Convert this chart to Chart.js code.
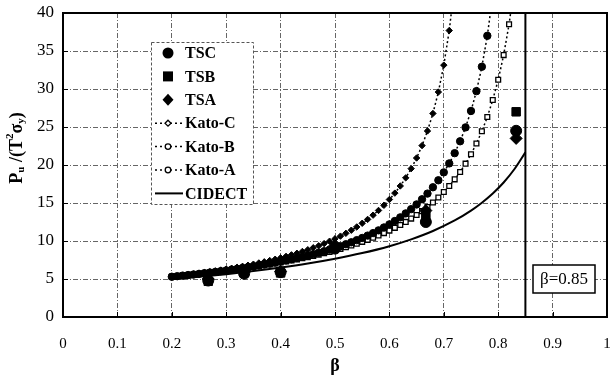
<!DOCTYPE html>
<html><head><meta charset="utf-8">
<script src="https://cdn.jsdelivr.net/npm/chart.js@4.4.0/dist/chart.umd.min.js"></script>
<style>html,body{margin:0;padding:0;background:#fff;}canvas{display:block;}</style>
</head><body>
<canvas id="c" width="614" height="381"></canvas>
<script>
// ---- tick labels ----
const xTickValues = [0,0.1,0.2,0.3,0.4,0.5,0.6,0.7,0.8,0.9,1];
const xTickLabels = ['0','0.1','0.2','0.3','0.4','0.5','0.6','0.7','0.8','0.9','1'];
const yTickValues = [0,5,10,15,20,25,30,35,40];

// ---- test results ----
const testBeta = [0.267,0.333,0.40,0.50,0.667,0.833];
const TSC = [4.8,5.7,5.9,9.0,12.5,24.5];
const TSB = [4.7,5.8,5.8,9.2,13.3,27.0];
const TSA = [5.0,5.9,6.0,9.4,14.0,23.5];

// ---- Kato curves ----
const katoBeta = [0.20,0.21,0.22,0.23,0.24,0.25,0.26,0.27,0.28,0.29,0.30,0.31,0.32,0.33,0.34,0.35,0.36,0.37,0.38,0.39,
  0.40,0.41,0.42,0.43,0.44,0.45,0.46,0.47,0.48,0.49,0.50,0.51,0.52,0.53,0.54,0.55,0.56,0.57,0.58,0.59,
  0.60,0.61,0.62,0.63,0.64,0.65,0.66,0.67,0.68,0.69,0.70,0.71,0.72,0.73,0.74,0.75,0.76,0.77,0.78,0.79,
  0.80,0.81,0.82,0.83];
const katoC = [5.30,5.38,5.47,5.56,5.65,5.75,5.85,5.95,6.06,6.18,6.29,6.41,6.54,6.67,6.81,6.95,7.11,7.26,7.43,7.60,
  7.78,7.98,8.18,8.39,8.62,8.85,9.11,9.37,9.66,9.97,10.29,10.64,11.01,11.42,11.85,12.33,12.84,13.40,14.02,14.70,
  15.46,16.30,17.24,18.31,19.52,20.92,22.55,24.48,26.78,29.60,33.14,37.69,43.8];
const katoB = [5.30,5.37,5.45,5.52,5.60,5.68,5.77,5.85,5.94,6.03,6.13,6.23,6.33,6.44,6.55,6.66,6.78,6.90,7.03,7.16,
  7.30,7.45,7.60,7.76,7.92,8.09,8.27,8.46,8.66,8.87,9.09,9.32,9.57,9.83,10.11,10.40,10.71,11.04,11.40,11.78,
  12.19,12.63,13.11,13.63,14.19,14.81,15.49,16.24,17.07,17.99,19.03,20.21,21.56,23.12,24.95,27.11,29.72,32.93,37.00,42.32];
const katoA = [5.30,5.37,5.44,5.51,5.59,5.66,5.74,5.82,5.91,6.00,6.09,6.18,6.27,6.37,6.48,6.58,6.69,6.80,6.92,7.04,
  7.17,7.30,7.44,7.58,7.73,7.88,8.04,8.21,8.39,8.57,8.77,8.97,9.18,9.41,9.64,9.89,10.15,10.43,10.73,11.04,
  11.37,11.73,12.11,12.51,12.95,13.42,13.93,14.47,15.07,15.73,16.44,17.23,18.11,19.08,20.18,21.41,22.82,24.44,26.32,28.55,
  31.21,34.46,38.52,43.76];

// ---- CIDECT design curve ----
const cidectBeta = [0.20,0.25,0.30,0.35,0.40,0.45,0.50,0.55,0.60,0.64,0.68,0.72,0.75,0.77,0.79,0.81,0.83,0.85];
const cidect = [4.97,5.29,5.64,6.04,6.50,7.03,7.66,8.41,9.32,10.22,11.32,12.70,14.00,15.04,16.25,17.70,19.47,21.66];

// ---- limit line ----
const limitBeta = [0.85,0.85];
const limitVal = [0,40];
const limitLabel = 'β=0.85';

const FONT = "'Liberation Serif', 'Times New Roman', serif";
const pts = (xs, ys) => ys.map((y,i)=>({x:xs[i], y}));

const legendItems = [
  {label:'TSC', kind:'circle'},
  {label:'TSB', kind:'square'},
  {label:'TSA', kind:'diamond'},
  {label:'Kato-C', kind:'dotDiamond'},
  {label:'Kato-B', kind:'dotCircle'},
  {label:'Kato-A', kind:'dotCircle2'},
  {label:'CIDECT', kind:'solid'}
];

const decor = {
  id:'decor',
  beforeDatasetsDraw(chart){
    const {ctx, chartArea:a, scales:{x,y}} = chart;
    ctx.save();
    ctx.strokeStyle='#000'; ctx.lineWidth=1;
    xTickValues.forEach(v=>{const px=Math.round(x.getPixelForValue(v))+0.5; ctx.beginPath(); ctx.moveTo(px,a.bottom); ctx.lineTo(px,a.bottom-5); ctx.stroke();});
    yTickValues.forEach(v=>{const py=Math.round(y.getPixelForValue(v))+0.5; ctx.beginPath(); ctx.moveTo(a.left,py); ctx.lineTo(a.left+5,py); ctx.stroke();});
    ctx.restore();
  },
  afterDatasetsDraw(chart){
    const {ctx, chartArea:a} = chart;
    ctx.save();
    // frame
    ctx.strokeStyle='#000'; ctx.lineWidth=2;
    ctx.strokeRect(a.left, a.top, a.right-a.left, a.bottom-a.top);
    // legend box
    const L=151, T=42, R=253, B=204;
    ctx.fillStyle='#fff'; ctx.fillRect(L,T,R-L,B-T);
    ctx.setLineDash([3,2]); ctx.strokeStyle='#555'; ctx.lineWidth=1;
    ctx.strokeRect(L+0.5,T+0.5,R-L,B-T);
    ctx.setLineDash([]);
    ctx.font = "bold 16px "+FONT; ctx.textBaseline='middle'; ctx.textAlign='left'; ctx.fillStyle='#000';
    legendItems.forEach((it,i)=>{
      const cy = 53 + i*23.4, cx = 168;
      ctx.fillStyle='#000'; ctx.strokeStyle='#000';
      if(it.kind==='circle'){ctx.beginPath(); ctx.arc(cx,cy,5.5,0,Math.PI*2); ctx.fill();}
      else if(it.kind==='square'){ctx.fillRect(cx-5,cy-5,10,10);}
      else if(it.kind==='diamond'){ctx.beginPath(); ctx.moveTo(cx,cy-6); ctx.lineTo(cx+5.5,cy); ctx.lineTo(cx,cy+6); ctx.lineTo(cx-5.5,cy); ctx.closePath(); ctx.fill();}
      else if(it.kind==='solid'){ctx.lineWidth=2; ctx.beginPath(); ctx.moveTo(155,cy); ctx.lineTo(183,cy); ctx.stroke();}
      else {
        ctx.lineWidth=1.5; ctx.setLineDash([2,3]); ctx.beginPath(); ctx.moveTo(155,cy); ctx.lineTo(183,cy); ctx.stroke(); ctx.setLineDash([]);
        ctx.fillStyle='#fff'; ctx.lineWidth=1.3;
        ctx.beginPath();
        if(it.kind==='dotDiamond'){ctx.moveTo(cx,cy-3); ctx.lineTo(cx+3,cy); ctx.lineTo(cx,cy+3); ctx.lineTo(cx-3,cy); ctx.closePath();}
        else {ctx.arc(cx,cy,2.8,0,Math.PI*2);}
        ctx.fill(); ctx.stroke();
      }
      ctx.fillStyle='#000';
      ctx.fillText(it.label, 185, cy+1);
    });
    // beta=0.85 label box
    const bx=533, by=265, bw=62, bh=28;
    ctx.fillStyle='#fff'; ctx.fillRect(bx,by,bw,bh);
    ctx.strokeStyle='#000'; ctx.lineWidth=1.5; ctx.strokeRect(bx,by,bw,bh);
    ctx.fillStyle='#000'; ctx.font="17px "+FONT; ctx.textAlign='center'; ctx.textBaseline='middle';
    ctx.fillText(limitLabel, bx+bw/2, by+bh/2+1);
    // y axis title with sub/superscripts
    ctx.translate(17, 148); ctx.rotate(-Math.PI/2);
    const parts = [
      {t:'P', f:"bold 18px "+FONT, dy:0},
      {t:'u', f:"bold 11px "+FONT, dy:4},
      {t:' /(T', f:"bold 18px "+FONT, dy:0},
      {t:'2', f:"bold 11px "+FONT, dy:-7},
      {t:'σ', f:"bold 18px "+FONT, dy:0},
      {t:'y', f:"bold 11px "+FONT, dy:4},
      {t:')', f:"bold 18px "+FONT, dy:0}
    ];
    let tw=0; parts.forEach(p=>{ctx.font=p.f; p.w=ctx.measureText(p.t).width; tw+=p.w;});
    let px=-tw/2; ctx.textAlign='left'; ctx.textBaseline='middle';
    parts.forEach(p=>{ctx.font=p.f; ctx.fillText(p.t, px, p.dy); px+=p.w;});
    ctx.restore();
  }
};

const dotted = [2,2.5];
new Chart(document.getElementById('c'), {
  type:'line',
  data:{datasets:[
    {label:'TSC', data:pts(testBeta,TSC), showLine:false, pointStyle:'circle', pointRadius:5.5, backgroundColor:'#000', borderColor:'#000', clip:0},
    {label:'TSB', data:pts(testBeta,TSB), showLine:false, pointStyle:'rect', pointRadius:6, backgroundColor:'#000', borderColor:'#000', clip:0},
    {label:'TSA', data:pts(testBeta,TSA), showLine:false, pointStyle:'rectRot', pointRadius:6, backgroundColor:'#000', borderColor:'#000', clip:0},
    {label:'Kato-C', data:pts(katoBeta,katoC), borderColor:'#000', borderWidth:1.5, borderDash:dotted, pointStyle:'rectRot', pointRadius:3.2, pointBorderWidth:1, pointBackgroundColor:'#000', pointBorderColor:'#000', tension:0, clip:0},
    {label:'Kato-B', data:pts(katoBeta,katoB), borderColor:'#000', borderWidth:1.5, borderDash:dotted, pointStyle:'circle', pointRadius:3.7, pointBorderWidth:1, pointBackgroundColor:'#000', pointBorderColor:'#000', tension:0, clip:0},
    {label:'Kato-A', data:pts(katoBeta,katoA), borderColor:'#000', borderWidth:1.5, borderDash:dotted, pointStyle:'rect', pointRadius:3.4, pointBorderWidth:1.3, pointBackgroundColor:'#fff', pointBorderColor:'#000', tension:0, clip:0},
    {label:'CIDECT', data:pts(cidectBeta,cidect), borderColor:'#000', borderWidth:2, pointRadius:0, cubicInterpolationMode:'monotone', clip:0},
    {label:'limit', data:pts(limitBeta,limitVal), borderColor:'#000', borderWidth:2, pointRadius:0, clip:0}
  ]},
  options:{
    responsive:false, animation:false, devicePixelRatio:1,
    layout:{padding:{top:13, right:2, left:0, bottom:0}},
    plugins:{legend:{display:false}, tooltip:{enabled:false}},
    scales:{
      x:{type:'linear', min:0, max:1,
        afterBuildTicks(s){ s.ticks = xTickValues.map(v=>({value:v})); },
        afterFit(s){ s.height=64; s.paddingLeft=0; s.paddingRight=0; },
        grid:{color:'#666', lineWidth:1, drawTicks:false},
        border:{display:false, dash:[5,2,1,2]},
        ticks:{padding:18, color:'#000', font:{family:FONT, size:15}, maxRotation:0, autoSkip:false,
          callback:(v)=>xTickLabels[Math.round(v*10)]},
        title:{display:true, text:'β', color:'#000', font:{family:FONT, size:18, weight:'bold'}, padding:{top:2,bottom:4}}
      },
      y:{type:'linear', min:0, max:40,
        afterBuildTicks(s){ s.ticks = yTickValues.map(v=>({value:v})); },
        afterFit(s){ s.width=63; s.paddingTop=0; s.paddingBottom=0; },
        grid:{color:'#666', lineWidth:1, drawTicks:false},
        border:{display:false, dash:[5,2,1,2]},
        ticks:{padding:9, color:'#000', font:{family:FONT, size:17}, autoSkip:false}
      }
    }
  },
  plugins:[decor]
});
</script>
</body></html>
